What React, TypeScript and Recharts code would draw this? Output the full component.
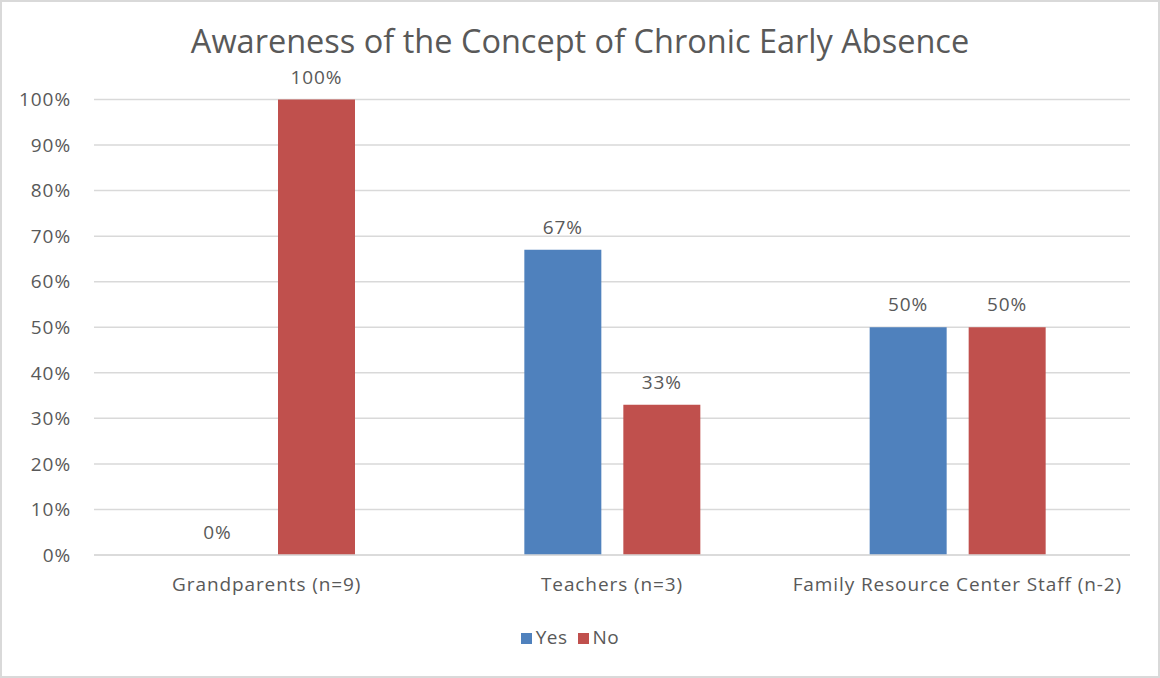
import { BarChart, Bar, XAxis, YAxis, CartesianGrid, Legend, LabelList } from 'recharts';

const categories = ['Grandparents (n=9)', 'Teachers (n=3)', 'Family Resource Center Staff (n-2)'];
const yesValues = [0, 67, 50];
const noValues = [100, 33, 50];
const yTicks = [0, 10, 20, 30, 40, 50, 60, 70, 80, 90, 100];

const FONT = '"Open Sans", "Liberation Sans", sans-serif';
const TEXT = '#595959';
const tickStyle = { fill: TEXT, fontSize: 19, fontFamily: FONT, letterSpacing: 0.9 };

const data = categories.map((name, i) => ({
  name,
  yes: yesValues[i],
  no: noValues[i],
}));

const pct = (v: any) => `${v}%`;

export default function App() {
  return (
    <div style={{ position: 'absolute', left: 0, top: 0, width: 1160, height: 678, background: '#fff', fontFamily: FONT }}>
      <div
        style={{
          position: 'absolute',
          left: 0,
          top: 0,
          width: 1160,
          height: 678,
          boxSizing: 'border-box',
          border: '2px solid #d9d9d9',
          pointerEvents: 'none',
        }}
      />
      <div
        style={{
          position: 'absolute',
          left: 0,
          width: 1160,
          top: 24,
          textAlign: 'center',
          fontSize: 32.5,
          color: TEXT,
          lineHeight: '34px',
        }}
      >
        Awareness of the Concept of Chronic Early Absence
      </div>
      <BarChart
        width={1160}
        height={678}
        data={data}
        margin={{ top: 99.5, right: 30, bottom: 67, left: 0 }}
        barGap={22}
        barCategoryGap={85}
      >
        <CartesianGrid vertical={false} stroke="#d9d9d9" strokeWidth={1.5} />
        <XAxis
          dataKey="name"
          height={30}
          axisLine={{ stroke: '#d9d9d9', strokeWidth: 1.5 }}
          tickLine={false}
          tickSize={0}
          tickMargin={23}
          tick={tickStyle}
          interval={0}
        />
        <YAxis
          width={94}
          domain={[0, 100]}
          ticks={yTicks}
          tickFormatter={pct}
          axisLine={false}
          tickLine={false}
          tickSize={0}
          tickMargin={23}
          tick={tickStyle}
        />
        <Legend
          verticalAlign="bottom"
          iconType="square"
          iconSize={11}
          itemSorter={null}
          wrapperStyle={{ left: 0, width: 1150, top: 624, fontFamily: FONT, fontSize: 19, letterSpacing: 0.5 }}
          formatter={(value: any) => <span style={{ color: TEXT }}>{value}</span>}
        />
        <Bar dataKey="yes" name="Yes" fill="#4f81bd" minPointSize={0.01} isAnimationActive={false}>
          <LabelList dataKey="yes" position="top" offset={16} formatter={pct} {...tickStyle} />
        </Bar>
        <Bar dataKey="no" name="No" fill="#c0504d" isAnimationActive={false}>
          <LabelList dataKey="no" position="top" offset={16} formatter={pct} {...tickStyle} />
        </Bar>
      </BarChart>
    </div>
  );
}
